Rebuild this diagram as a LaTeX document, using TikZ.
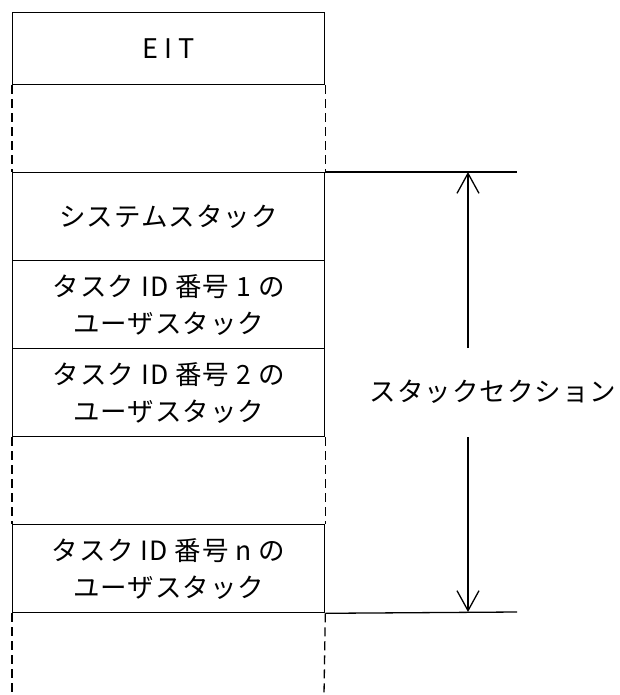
\documentclass[tikz,border=0pt]{standalone}
\usepackage{fontspec}
\newfontfamily\jp{Noto Sans CJK JP}[LetterSpace=4]
\newfontfamily\jpw{Noto Sans CJK JP}[LetterSpace=22]
\usetikzlibrary{arrows.meta}
\begin{document}
\begin{tikzpicture}[x=1pt,y=-1pt,
  lw/.style={line width=1.3pt},
  box/.style={draw, lw, minimum width=312pt, inner sep=0pt, align=center,
    anchor=north west, font=\jp\fontsize{26.5}{37}\selectfont},
  side/.style={lw, dash pattern=on 9pt off 5pt},
  tip/.style={lw, -{Straight Barb[length=20pt,width=22pt,line width=1.3pt]}}]
\useasboundingbox (0,0) rectangle (620,695);
\node[box, minimum height=72pt] (eit) at (12,12) {\jpw\fontsize{27}{30}\selectfont EIT};
\node[box, minimum height=88pt] (sys) at (12,172) {システムスタック};
\node[box, minimum height=88pt] (t1) at (12,260) {タスク ID 番号 1 の\\ユーザスタック};
\node[box, minimum height=88pt] (t2) at (12,348) {タスク ID 番号 2 の\\ユーザスタック};
\node[box, minimum height=88pt] (tn) at (12,524) {タスク ID 番号 n の\\ユーザスタック};
\coordinate (bl) at (12,695);
\coordinate (br) at (324,695);
\draw[side] (eit.south west) -- (sys.north west);
\draw[side] (eit.south east) -- (sys.north east);
\draw[side] (t2.south west) -- (tn.north west);
\draw[side] (t2.south east) -- (tn.north east);
\draw[side] (tn.south west) -- (bl);
\draw[side] (tn.south east) -- (br);
\coordinate (topR) at (517,172);
\coordinate (botR) at (517,612);
\draw[lw] (sys.north east) -- (topR);
\draw[lw] (tn.south east) -- (botR);
\node[font=\jp\fontsize{26.5}{37}\selectfont, inner sep=0pt] (lbl) at (493,392) {スタックセクション};
\coordinate (aT) at (468,172);
\coordinate (aB) at (468,612);
\coordinate (a1) at (468,348);
\coordinate (a2) at (468,437);
\draw[tip] (a1) -- (aT);
\draw[tip] (a2) -- (aB);
\end{tikzpicture}
\end{document}
